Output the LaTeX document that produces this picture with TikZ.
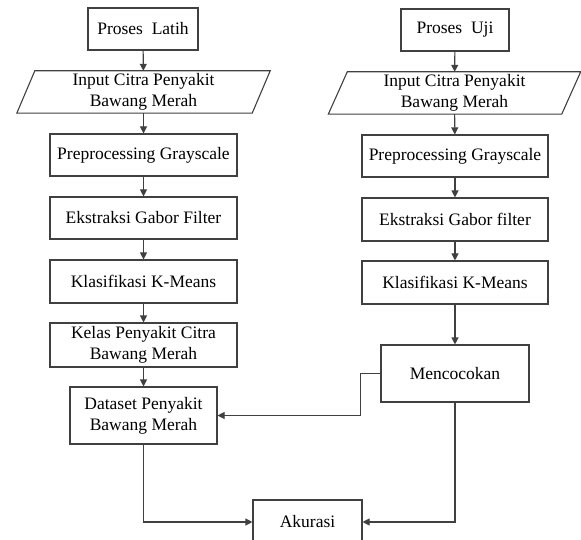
\documentclass[tikz,border=0pt]{standalone}
\usepackage{fontspec}
\setmainfont{Liberation Serif}
\usetikzlibrary{arrows.meta}

\colorlet{figLine}{black!75}
\colorlet{figText}{black}

\begin{document}
\begin{tikzpicture}[x=1pt, y=-1pt, >={Triangle[length=7pt,width=7pt]},
        box/.style={draw=figLine, line width=1.1pt, align=center, inner sep=2pt,
              text=figText, font=\fontsize{17.5}{21}\selectfont},
        slanted/.style={align=center, inner sep=2pt, text=figText,
              font=\fontsize{17.5}{21}\selectfont},
        flow/.style={->, line width=1.1pt, figLine}]
        \useasboundingbox (0,0) rectangle (581,540);
        % proses latih
        \node[box, minimum width=110pt, minimum height=42pt]
              (latih) at (143,29) {Proses\ \ Latih};
        \node[slanted, minimum width=235pt, minimum height=42pt]
              (inL) at (143.5,92) {Input Citra Penyakit\\Bawang Merah};
        \draw[figLine, line width=1.1pt]
              ([xshift=9pt]inL.north west)--([xshift=9pt]inL.north east)
              --([xshift=-9pt]inL.south east)--([xshift=-9pt]inL.south west)--cycle;
        \node[box, minimum width=187pt, minimum height=42pt]
              (preL) at (143.5,155) {Preprocessing Grayscale};
        \node[box, minimum width=187pt, minimum height=42pt]
              (gabL) at (143.5,218) {Ekstraksi Gabor Filter};
        \node[box, minimum width=187pt, minimum height=43pt]
              (kmL) at (143.5,281.5) {Klasifikasi K-Means};
        \node[box, minimum width=187pt, minimum height=44pt]
              (kelasL) at (143.5,345) {Kelas Penyakit Citra\\Bawang Merah};
        \node[box, minimum width=147pt, minimum height=57pt]
              (dataL) at (143.5,415.5) {Dataset Penyakit\\Bawang Merah};
        % proses uji
        \node[box, minimum width=108pt, minimum height=42pt]
              (uji) at (455,30) {Proses\ \ Uji};
        \node[slanted, minimum width=233pt, minimum height=42pt]
              (inR) at (454.5,93) {Input Citra Penyakit\\Bawang Merah};
        \draw[figLine, line width=1.1pt]
              ([xshift=9.5pt]inR.north west)--([xshift=9.5pt]inR.north east)
              --([xshift=-9.5pt]inR.south east)--([xshift=-9.5pt]inR.south west)--cycle;
        \node[box, minimum width=186pt, minimum height=42pt]
              (preR) at (455,156) {Preprocessing Grayscale};
        \node[box, minimum width=186pt, minimum height=43pt]
              (gabR) at (455,219.5) {Ekstraksi Gabor filter};
        \node[box, minimum width=186pt, minimum height=43pt]
              (kmR) at (455,282.5) {Klasifikasi K-Means};
        \node[box, minimum width=148pt, minimum height=57pt]
              (cocok) at (455,373.5) {Mencocokan};
        % akurasi
        \node[box, minimum width=109pt, minimum height=44pt]
              (akurasi) at (307.5,522) {Akurasi};
        % alur
        \draw[flow](latih)--(inL);
        \draw[flow](inL)--(preL);
        \draw[flow](preL)--(gabL);
        \draw[flow](gabL)--(kmL);
        \draw[flow](kmL)--(kelasL);
        \draw[flow](kelasL)--(dataL);
        \draw[flow](uji)--(inR);
        \draw[flow](inR)--(preR);
        \draw[flow](preR)--(gabR);
        \draw[flow](gabR)--(kmR);
        \draw[flow](kmR)--(cocok);
        \draw[flow](cocok.west)--++(-20,0)|-(dataL.east);
        \draw[flow](dataL.south)|-(akurasi.west);
        \draw[flow](cocok.south)|-(akurasi.east);
      \end{tikzpicture}
\end{document}
